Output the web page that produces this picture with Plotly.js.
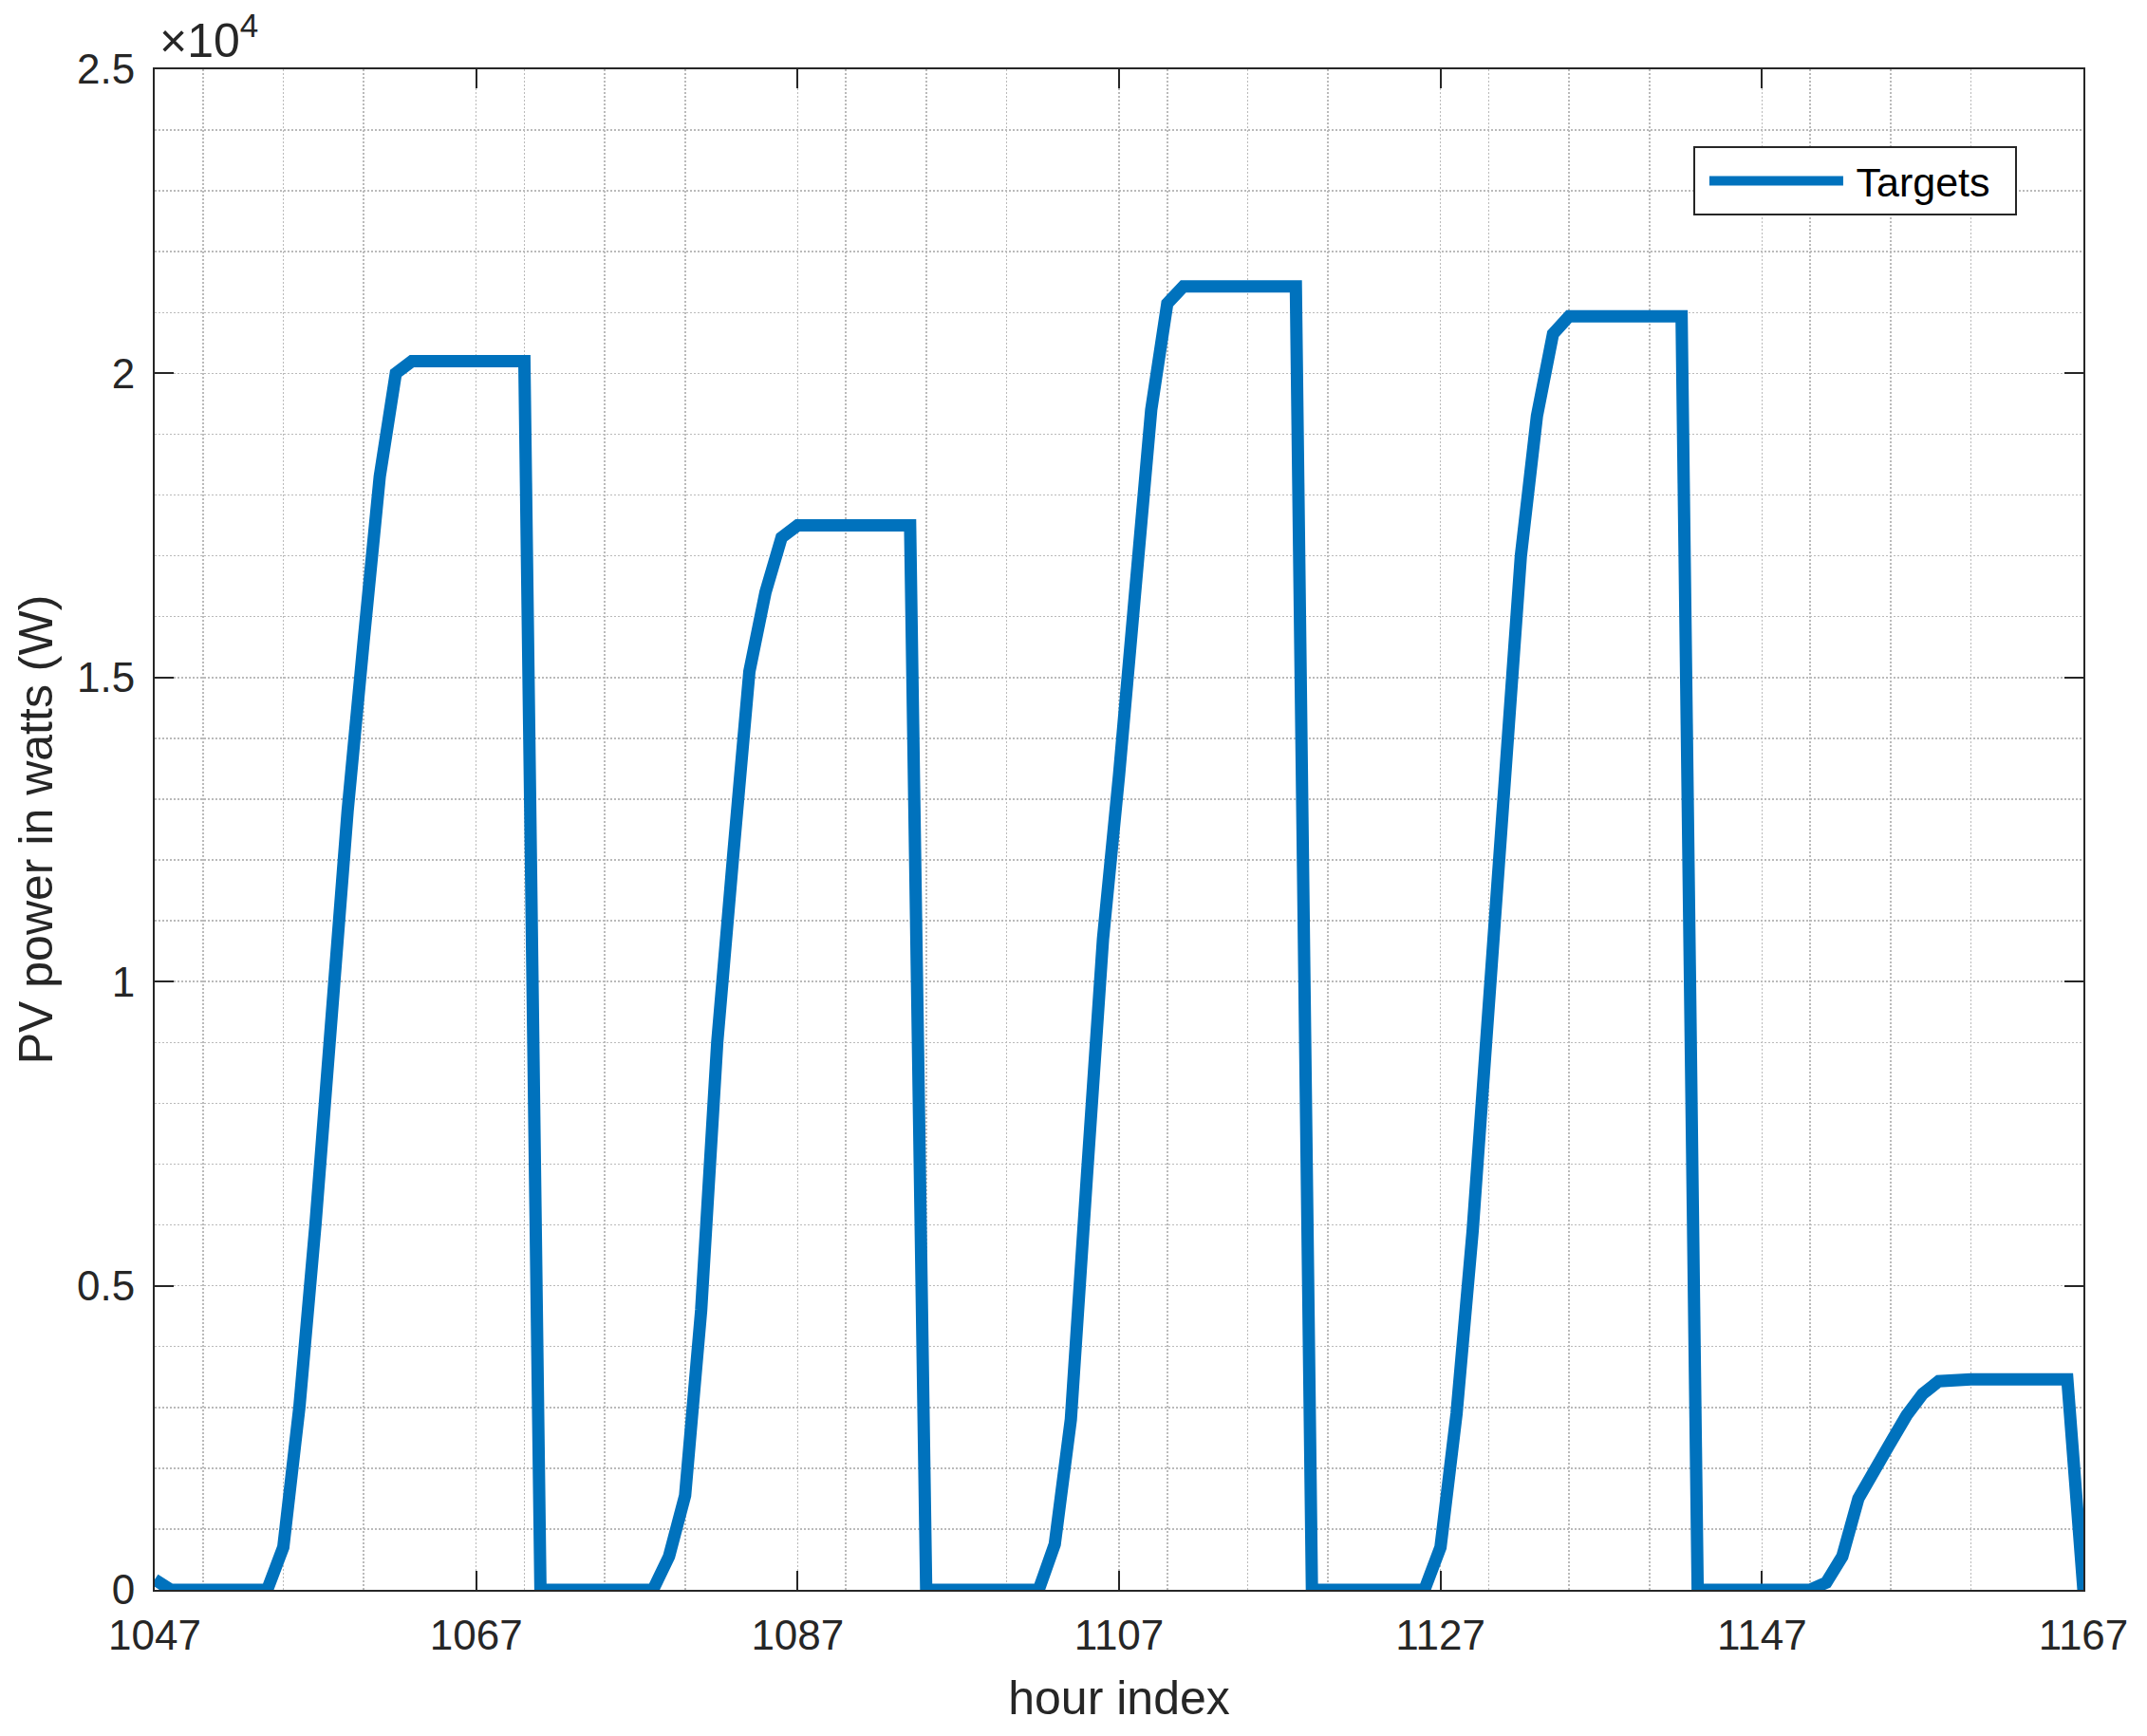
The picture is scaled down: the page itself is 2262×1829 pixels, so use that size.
<!DOCTYPE html>
<html>
<head>
<meta charset="utf-8">
<script src="https://cdn.plot.ly/plotly-3.0.1.min.js"></script>
<style>
  html, body { margin: 0; padding: 0; background: #ffffff; }
  #chart { width: 2262px; height: 1829px; }
</style>
</head>
<body>
<div id="chart"></div>
<script>
// ---- data ----
const startHour = 1047;   // first hour index on the x axis
const targetsW = [
  170, 0, 0, 0, 0, 0, 0, 0, 700, 3000, 6000, 9500, 12800, 15600, 18300, 20000,
  20200, 20200, 20200, 20200, 20200, 20200, 20200, 20200,
  0, 0, 0, 0, 0, 0, 0, 0, 550, 1550, 4600, 9000, 12100, 15100, 16400, 17300,
  17500, 17500, 17500, 17500, 17500, 17500, 17500, 17500,
  0, 0, 0, 0, 0, 0, 0, 0, 750, 2800, 6800, 10700, 13400, 16600, 19400, 21150,
  21430, 21430, 21430, 21430, 21430, 21430, 21430, 21430,
  0, 0, 0, 0, 0, 0, 0, 0, 700, 2900, 5900, 9400, 12900, 17000, 19300, 20650,
  20940, 20940, 20940, 20940, 20940, 20940, 20940, 20940,
  0, 0, 0, 0, 0, 0, 0, 0, 120, 550, 1500, 2000, 2420, 2870, 3220, 3430,
  3460, 3460, 3460, 3460, 3460, 3460, 3460, 3460,
  0
];
const hours = targetsW.map((_, i) => startHour + i);

const xTickVals = [1047, 1067, 1087, 1107, 1127, 1147, 1167];
const xTickText = ['1047', '1067', '1087', '1107', '1127', '1147', '1167'];
const xMinorVals = [1050, 1055, 1060, 1070, 1075, 1080, 1090, 1095, 1100, 1110, 1115, 1120,
                    1130, 1135, 1140, 1150, 1155, 1160];
const yTickVals = [0, 5000, 10000, 15000, 20000, 25000];
const yTickText = ['0', '0.5', '1', '1.5', '2', '2.5'];
const seriesName = 'Targets';
const xLabel = 'hour index';
const yLabel = 'PV power in watts (W)';
const exponentLabel = '×10<sup>4</sup>';

// ---- style ----
const FONT = '"Liberation Sans", Arial, Helvetica, sans-serif';
const AX = '#262626';
const GRID = '#bababa';

const trace = {
  x: hours,
  y: targetsW,
  type: 'scatter',
  mode: 'lines',
  name: '\u2009' + seriesName + '\u00a0\u2009',
  line: { color: '#0072BD', width: 13 },
  cliponaxis: false
};

const axisCommon = {
  showline: true,
  linecolor: AX,
  linewidth: 2,
  mirror: 'ticks',
  ticks: 'inside',
  ticklen: 20,
  tickwidth: 2,
  tickcolor: AX,
  showgrid: true,
  gridcolor: GRID,
  gridwidth: 1.5,
  griddash: '2px,2px',
  zeroline: false,
  layer: 'below traces',
  tickfont: { family: FONT, size: 44, color: AX }
};

const layout = {
  width: 2262,
  height: 1829,
  margin: { l: 163, r: 67, t: 73, b: 154, pad: 0 },
  paper_bgcolor: '#ffffff',
  plot_bgcolor: '#ffffff',
  font: { family: FONT, color: AX },
  showlegend: true,
  legend: {
    x: 0.7977, y: 0.9494, xanchor: 'left', yanchor: 'top',
    bgcolor: '#ffffff', bordercolor: AX, borderwidth: 2,
    font: { family: FONT, size: 43, color: '#000000' },
    itemwidth: 141,
    indentation: 10
  },
  xaxis: Object.assign({}, axisCommon, {
    range: [1047, 1167],
    tickmode: 'array', tickvals: xTickVals, ticktext: xTickText,
    minor: { tickmode: 'array', tickvals: xMinorVals, showgrid: true,
             gridcolor: GRID, gridwidth: 1.5, griddash: '2px,2px', ticks: '' },
    ticklabelstandoff: 8,
    title: { text: xLabel, font: { family: FONT, size: 50, color: AX }, standoff: 25 }
  }),
  yaxis: Object.assign({}, axisCommon, {
    range: [0, 25000],
    tickmode: 'array', tickvals: yTickVals, ticktext: yTickText,
    minor: { dtick: 1000, tick0: 0, showgrid: true,
             gridcolor: GRID, gridwidth: 1.5, griddash: '2px,2px', ticks: '' },
    ticklabelstandoff: 10,
    title: { text: yLabel, font: { family: FONT, size: 50, color: AX }, standoff: 10 }
  }),
  annotations: [{
    xref: 'paper', yref: 'paper', x: 0, y: 1,
    xanchor: 'left', yanchor: 'bottom', xshift: 3, yshift: 0,
    text: exponentLabel, showarrow: false,
    font: { family: FONT, size: 50, color: AX }
  }]
};

Plotly.newPlot('chart', [trace], layout, { displayModeBar: false, staticPlot: true }).then(function (gd) {
  // let the thick line overflow the axes box like the original
  gd.querySelectorAll('.scatterlayer, .scatterlayer *, .plot').forEach(function (el) {
    el.removeAttribute('clip-path');
  });
});
</script>
</body>
</html>
